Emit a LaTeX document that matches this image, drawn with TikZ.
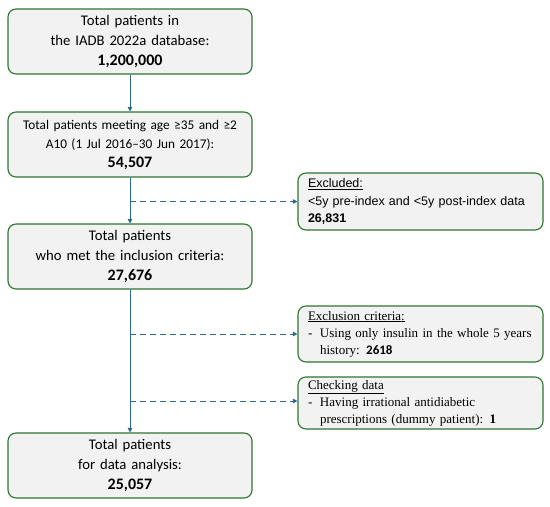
\documentclass[tikz,border=0pt]{standalone}
\usepackage{fontspec}
\setmainfont{Carlito}
\newfontfamily\arifont{Liberation Sans}
\newfontfamily\timfont{Liberation Serif}
\usetikzlibrary{arrows.meta}
\definecolor{boxgreen}{RGB}{46,117,50}
\definecolor{boxfill}{RGB}{242,242,242}
\definecolor{arrblue}{RGB}{46,104,140}
\tikzset{
 mainbox/.style={draw=boxgreen, fill=boxfill, line width=1.1pt, rounded corners=8pt, minimum width=244pt, minimum height=65pt, align=center, font=\fontsize{14.7}{20}\selectfont, inner sep=0pt, text width=240pt},
 sidebox/.style={draw=boxgreen, fill=boxfill, line width=1.1pt, rounded corners=8pt, minimum width=245pt, align=left, text width=225pt, inner xsep=10pt, inner ysep=0pt},
 flow/.style={draw=arrblue, line width=0.9pt, -{Triangle[length=4.5pt,width=4.5pt]}},
 side/.style={flow, dash pattern=on 6pt off 4pt}
}
\newcommand{\dashitem}{\makebox[12pt][l]{-}}
\newcommand{\bignum}[1]{{\fontsize{16}{20}\selectfont\bfseries #1}}
\begin{document}
\begin{tikzpicture}[x=1pt,y=-1pt]
\useasboundingbox (0,0) rectangle (550,507);
\node[mainbox] (b1) at (130,41.5) {Total patients in\\the IADB 2022a database:\\\bignum{1,200,000}};
\node[mainbox, font=\fontsize{13.3}{19}\selectfont] (b2) at (130,144.5) {Total patients meeting age ≥35 and ≥2\\A10 (1 Jul 2016–30 Jun 2017):\\\bignum{54,507}};
\node[mainbox] (b3) at (130,256.5) {Total patients\\who met the inclusion criteria:\\\bignum{27,676}};
\node[mainbox] (b4) at (130,465.5) {Total patients\\for data analysis:\\\bignum{25,057}};
\node[sidebox, minimum height=57pt, font=\arifont\fontsize{12.5}{17.5}\selectfont] (e1) at (420.5,201.5) {\underline{Excluded:}\\<5y pre-index and <5y post-index data\\\textbf{26,831}};
\node[sidebox, minimum height=56pt, font=\timfont\fontsize{13}{17}\selectfont] (e2) at (420.5,334) {\underline{Exclusion criteria:}\\\dashitem Using only insulin in the whole 5 years\\\hspace*{12pt}history: {\normalfont\bfseries 2618}};
\node[sidebox, minimum height=52pt, font=\timfont\fontsize{13}{17}\selectfont] (e3) at (420.5,403) {\underline{Checking data}\\\dashitem Having irrational antidiabetic\\\hspace*{12pt}prescriptions (dummy patient): \textbf{1}};
\draw[flow] (b1) -- (b2);
\draw[flow] (b2) -- (b3);
\draw[flow] (b3) -- (b4);
\coordinate (j1) at (130,201.5);
\coordinate (j2) at (130,334);
\coordinate (j3) at (130,401);
\draw[side] (j1) -- (j1 -| e1.west);
\draw[side] (j2) -- (j2 -| e2.west);
\draw[side] (j3) -- (j3 -| e3.west);
\end{tikzpicture}
\end{document}
